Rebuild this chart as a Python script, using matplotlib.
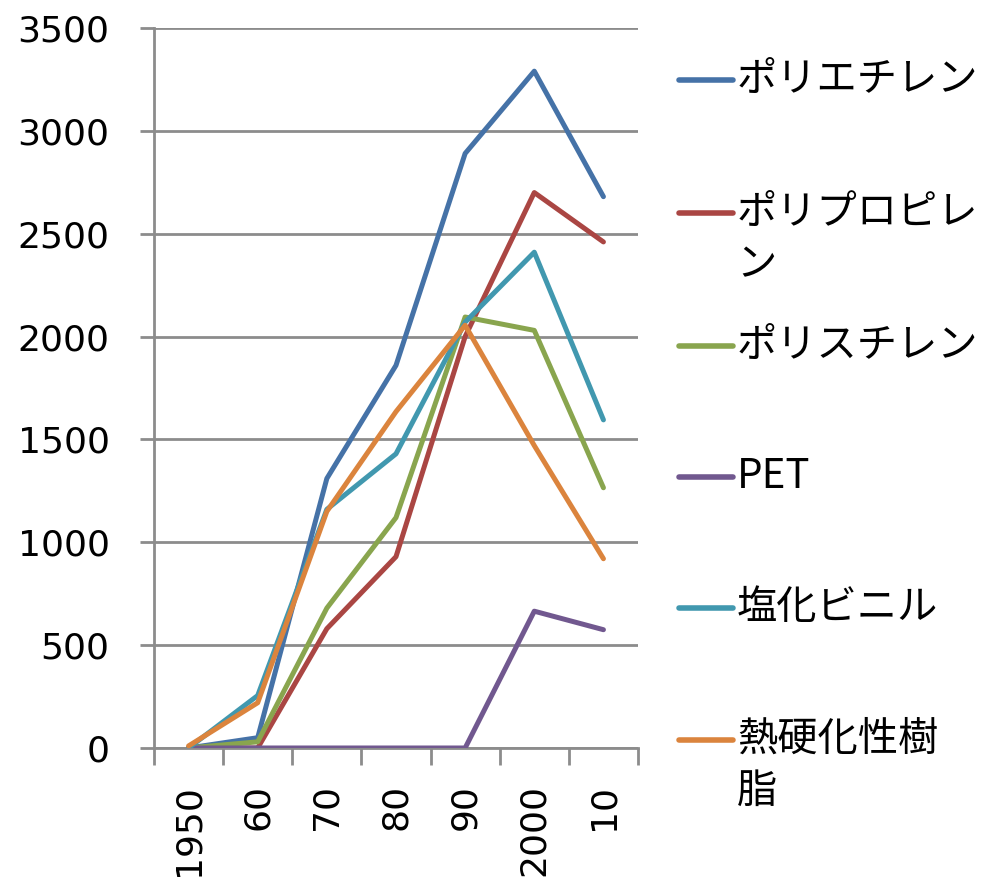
import matplotlib
matplotlib.use('Agg')
import matplotlib.pyplot as plt
from matplotlib.lines import Line2D

plt.rcParams['font.family'] = ['DejaVu Sans', 'Noto Sans CJK JP']

years = ['1950', '60', '70', '80', '90', '2000', '10']
names = ['ポリエチレン', 'ポリプロピレ\nン', 'ポリスチレン', 'PET', '塩化ビニル', '熱硬化性樹\n脂']
colors = ['#4572A7', '#AA4643', '#89A54E', '#71588F', '#4198AF', '#DB843D']

polyethylene = [0, 50, 1310, 1860, 2890, 3290, 2680]
polypropylene = [0, 0, 580, 930, 2000, 2700, 2460]
polystyrene = [0, 30, 680, 1120, 2095, 2030, 1265]
pet = [0, 0, 0, 0, 0, 665, 575]
pvc = [0, 255, 1160, 1430, 2070, 2410, 1595]
thermoset = [10, 220, 1150, 1635, 2055, 1470, 920]

series = [polyethylene, polypropylene, polystyrene, pet, pvc, thermoset]

fig = plt.figure(figsize=(9.89, 8.77), dpi=100)
ax = fig.add_axes([0.1557, 0.1471, 0.4894, 0.8210])

x = list(range(len(years)))
for vals, c in zip(series, colors):
    ax.plot(x, vals, color=c, lw=3.6, solid_capstyle='round', solid_joinstyle='round', zorder=3)

grey = '#8c8c8c'
ax.set_xlim(-0.5, len(years) - 0.5)
ax.set_ylim(0, 3500)
ax.set_yticks(range(0, 3501, 500))
ax.yaxis.grid(True, color=grey, lw=2)
ax.set_axisbelow(True)
for s in ['top', 'right']:
    ax.spines[s].set_visible(False)
ax.spines['left'].set_color(grey)
ax.spines['left'].set_linewidth(2)
ax.spines['bottom'].set_color(grey)
ax.spines['bottom'].set_linewidth(2)
ax.tick_params(axis='y', length=10, width=2, color=grey, labelsize=26, pad=22)

ax.set_xticks(x)
ax.set_xticklabels(years, rotation=90, fontsize=26)
ax.set_xticks([i - 0.5 for i in range(len(years) + 1)], minor=True)
ax.tick_params(axis='x', which='major', length=0, pad=26)
ax.tick_params(axis='x', which='minor', length=12, width=2, color=grey)

# legend drawn by hand so wrapped labels keep the line on the first row
ys = [0.909, 0.757, 0.606, 0.456, 0.307, 0.156]
for name, c, yy in zip(names, colors, ys):
    fig.add_artist(Line2D([0.687, 0.741], [yy, yy], color=c, lw=4, solid_capstyle='round'))
    fig.text(0.745, yy + 0.024, name, fontsize=29, va='top', ha='left',
             family=['Noto Sans CJK JP', 'DejaVu Sans'], linespacing=1.35)

fig.savefig('out.png', dpi=100)
